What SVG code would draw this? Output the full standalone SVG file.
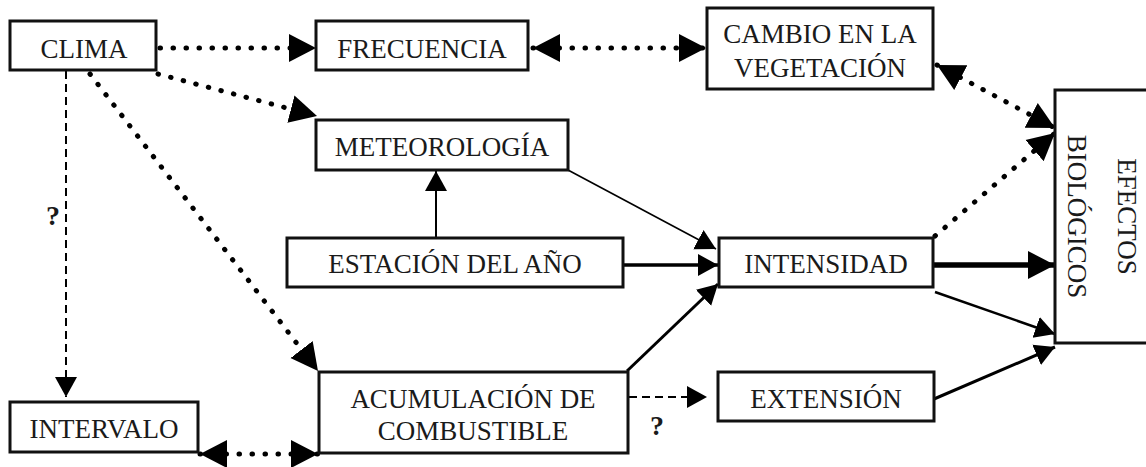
<svg xmlns="http://www.w3.org/2000/svg" width="1146" height="467" viewBox="0 0 1146 467">
<style>
.box{fill:#fff;stroke:#111;stroke-width:3}
.t{font-family:'Liberation Serif','Times New Roman',serif;font-size:27px;fill:#1a1a1a;text-anchor:middle}
.q{font-family:'Liberation Serif','Times New Roman',serif;font-size:28px;font-weight:bold;fill:#1a1a1a;text-anchor:middle}
.dot{fill:none;stroke:#000;stroke-width:5;stroke-linecap:round;stroke-dasharray:0.5 12.5}
.dash{fill:none;stroke:#000;stroke-width:2;stroke-dasharray:8 5}
.sol{fill:none;stroke:#000}
</style>
<defs>
<marker id="big" markerUnits="userSpaceOnUse" markerWidth="28" markerHeight="30" refX="27" refY="14" orient="auto-start-reverse" viewBox="0 0 28 28"><path d="M0,0 L27,14 L0,28 Z" fill="#000"/></marker>
<marker id="med" markerUnits="userSpaceOnUse" markerWidth="22" markerHeight="24" refX="20" refY="11" orient="auto-start-reverse" viewBox="0 0 22 22"><path d="M0,0 L20,11 L0,22 Z" fill="#000"/></marker>
</defs>
<g id="connectors">
<path class="dot" d="M160,48 L316,48" marker-end="url(#big)"/>
<path class="dot" d="M533,48 L706,48" marker-start="url(#big)" marker-end="url(#big)"/>
<path class="dot" d="M937,65 L1055,128" marker-start="url(#big)" marker-end="url(#big)"/>
<path class="dot" d="M158,74 L317,116" marker-end="url(#big)"/>
<path class="dot" d="M90,74 L318,371" marker-end="url(#big)"/>
<path class="dash" d="M66,71 L66,397" marker-end="url(#med)"/>
<path class="dot" d="M200,454 L318,454" marker-start="url(#big)" marker-end="url(#big)"/>
<path class="sol" stroke-width="1.6" d="M568,170 L716,249" marker-end="url(#med)"/>
<path class="sol" stroke-width="2" d="M436,238 L436,171" marker-end="url(#med)"/>
<path class="sol" stroke-width="3.5" d="M623,265 L718,265" marker-end="url(#med)"/>
<path class="sol" stroke-width="3" d="M627,371 L718,284" marker-end="url(#med)"/>
<path class="dash" d="M629,397 L707,397" marker-end="url(#med)"/>
<path class="dot" d="M935,236 L1055,133" marker-end="url(#big)"/>
<path class="sol" stroke-width="5.5" d="M933,265 L1055,265" marker-end="url(#big)"/>
<path class="sol" stroke-width="2.5" d="M935,292 L1055,334" marker-end="url(#med)"/>
<path class="sol" stroke-width="3" d="M934,399 L1055,347" marker-end="url(#med)"/>
<text class="q" x="53" y="225">?</text>
<text class="q" x="657" y="435">?</text>
</g>
<g id="clima"><rect class="box" x="10" y="21" width="146" height="49"/><text class="t" x="84" y="58">CLIMA</text></g>
<g id="frecuencia"><rect class="box" x="316" y="21" width="212" height="49"/><text class="t" x="422" y="58">FRECUENCIA</text></g>
<g id="cambio"><rect class="box" x="707" y="8" width="226" height="81"/><text class="t" x="820" y="43">CAMBIO EN LA</text><text class="t" x="820" y="77">VEGETACIÓN</text></g>
<g id="meteorologia"><rect class="box" x="316" y="120" width="252" height="50"/><text class="t" x="442" y="156">METEOROLOGÍA</text></g>
<g id="estacion"><rect class="box" x="287" y="238" width="336" height="49"/><text class="t" x="455" y="273">ESTACIÓN DEL AÑO</text></g>
<g id="intensidad"><rect class="box" x="719" y="238" width="214" height="49"/><text class="t" x="826" y="273">INTENSIDAD</text></g>
<g id="efectos"><rect class="box" x="1055" y="90" width="100" height="253"/><text class="t" transform="translate(1118,216.5) rotate(90)" x="0" y="0">EFECTOS</text><text class="t" transform="translate(1068,216.5) rotate(90)" x="0" y="0">BIOLÓGICOS</text></g>
<g id="intervalo"><rect class="box" x="10" y="402" width="188" height="50"/><text class="t" x="104" y="438">INTERVALO</text></g>
<g id="acumulacion"><rect class="box" x="319" y="372" width="309" height="81"/><text class="t" x="473" y="408">ACUMULACIÓN DE</text><text class="t" x="473" y="440">COMBUSTIBLE</text></g>
<g id="extension"><rect class="box" x="718" y="372" width="216" height="49"/><text class="t" x="826" y="408">EXTENSIÓN</text></g>
</svg>
